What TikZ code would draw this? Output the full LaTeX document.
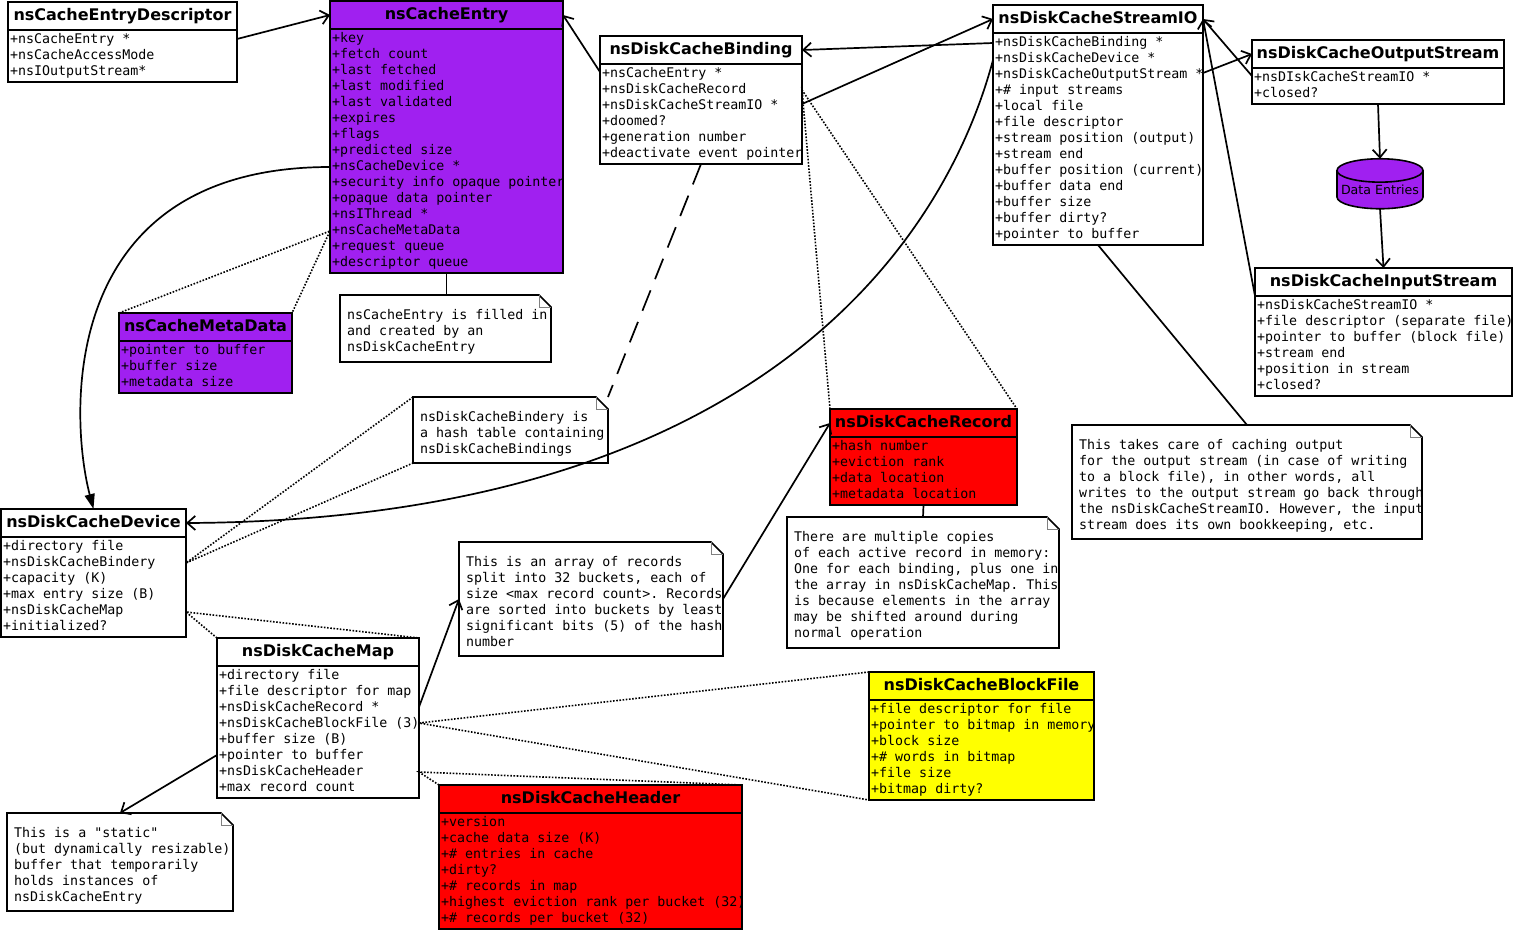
\documentclass[tikz,border=0pt]{standalone}
\usepackage{fontspec}
\setmainfont{DejaVu Sans}
\setmonofont{DejaVu Sans Mono}
\usetikzlibrary{arrows.meta,shapes.geometric}

\definecolor{violetuml}{RGB}{160,32,240}
\definecolor{rougeuml}{RGB}{255,0,0}
\definecolor{jauneuml}{RGB}{255,255,0}

% Classe UML : #1 nom, #2 coin haut gauche, #3 largeur, #4 couleur, #5 titre, #6 nb lignes, #7 attributs
\newcommand{\classeuml}[7]{%
  \node[titre, fill=#4, minimum width=#3pt, anchor=north west] (#1) at #2 {#5};
  \pgfmathsetmacro{\hauteurcorps}{16*#6+4}
  \node[cadre, fill=#4, minimum width=#3pt, minimum height=\hauteurcorps pt, anchor=north west] (#1-a) at (#1.south west) {};
  \node[attributs, anchor=north west] at ([shift={(2pt,-2pt)}]#1-a.north west) {\strut#7\strut};
}

% Note UML : #1 nom, #2 coin haut gauche, #3 largeur, #4 hauteur, #5 texte
\newcommand{\noteuml}[5]{%
  \node[fond note, minimum width=#3pt, minimum height=#4pt, anchor=north west] (#1) at #2 {};
  \draw[line width=1.6pt] (#1.north west) -- ([xshift=-12pt]#1.north east) -- ([yshift=-12pt]#1.north east) -- (#1.south east) -- (#1.south west) -- cycle;
  \draw[gray, line width=1pt] ([xshift=-12pt]#1.north east) |- ([yshift=-12pt]#1.north east);
  \node[attributs, anchor=north west] at ([shift={(7pt,-13pt)}]#1.north west) {\strut#5\strut};
}

\begin{document}
\begin{tikzpicture}[x=1pt, y=-1pt, >={Straight Barb[length=8pt,width=14pt]},
  titre/.style={draw, line width=2pt, inner sep=0pt, outer sep=0pt, minimum height=28pt, text height=12pt, text depth=3.5pt, font=\bfseries\fontsize{16}{19}\selectfont},
  cadre/.style={draw, line width=2pt, inner sep=0pt, outer sep=0pt},
  attributs/.style={inner sep=0pt, align=left, font=\ttfamily\fontsize{13.3}{16}\selectfont},
  fond note/.style={fill=white, inner sep=0pt, outer sep=0pt},
  lien/.style={line width=1.7pt},
  pointille/.style={line width=1.6pt, dash pattern=on 1.6pt off 1.6pt},
  tirets/.style={line width=1.7pt, dash pattern=on 22pt off 12pt},
  pleine/.style={-{Triangle[length=15pt,width=10pt]}},
  donnees/.style={draw, line width=1.6pt, fill=violetuml, cylinder, shape border rotate=90, aspect=0.3, minimum width=86pt, minimum height=50pt, inner sep=0pt, outer sep=0pt, font=\fontsize{12.6}{15}\selectfont}]

  \useasboundingbox (0,0) rectangle (1513,930);

  % ==========================================
  % CLASSES (EN HAUT)
  % ==========================================
  \classeuml{desc}{(8,2)}{229}{white}{nsCacheEntryDescriptor}{3}{%
    +nsCacheEntry *\\+nsCacheAccessMode\\+nsIOutputStream*}
  \classeuml{entry}{(330,1)}{233}{violetuml}{nsCacheEntry}{15}{%
    +key\\+fetch count\\+last fetched\\+last modified\\+last validated\\+expires\\+flags\\%
    +predicted size\\+nsCacheDevice *\\+security info opaque pointer\\+opaque data pointer\\%
    +nsIThread *\\+nsCacheMetaData\\+request queue\\+descriptor queue}
  \classeuml{binding}{(600,36)}{202}{white}{nsDiskCacheBinding}{6}{%
    +nsCacheEntry *\\+nsDiskCacheRecord\\+nsDiskCacheStreamIO *\\+doomed?\\%
    +generation number\\+deactivate event pointer}
  \classeuml{sio}{(993,5)}{210}{white}{nsDiskCacheStreamIO}{13}{%
    +nsDiskCacheBinding *\\+nsDiskCacheDevice *\\+nsDiskCacheOutputStream *\\+\# input streams\\%
    +local file\\+file descriptor\\+stream position (output)\\+stream end\\%
    +buffer position (current)\\+buffer data end\\+buffer size\\+buffer dirty?\\+pointer to buffer}
  \classeuml{outstream}{(1252,40)}{252}{white}{nsDiskCacheOutputStream}{2}{%
    +nsDIskCacheStreamIO *\\+closed?}
  \classeuml{instream}{(1255,268)}{257}{white}{nsDiskCacheInputStream}{6}{%
    +nsDiskCacheStreamIO *\\+file descriptor (separate file)\\+pointer to buffer (block file)\\%
    +stream end\\+position in stream\\+closed?}
  \classeuml{meta}{(119,313)}{173}{violetuml}{nsCacheMetaData}{3}{%
    +pointer to buffer\\+buffer size\\+metadata size}

  % Fichier de données
  \node[donnees] (data) at (1380,190) {Data Entries};

  % ==========================================
  % CLASSES (EN BAS)
  % ==========================================
  \classeuml{record}{(830,409)}{187}{rougeuml}{nsDiskCacheRecord}{4}{%
    +hash number\\+eviction rank\\+data location\\+metadata location}
  \classeuml{device}{(1,509)}{185}{white}{nsDiskCacheDevice}{6}{%
    +directory file\\+nsDiskCacheBindery\\+capacity (K)\\+max entry size (B)\\%
    +nsDiskCacheMap\\+initialized?}
  \classeuml{map}{(217,638)}{202}{white}{nsDiskCacheMap}{8}{%
    +directory file\\+file descriptor for map\\+nsDiskCacheRecord *\\+nsDiskCacheBlockFile (3)\\%
    +buffer size (B)\\+pointer to buffer\\+nsDiskCacheHeader\\+max record count}
  \classeuml{blockfile}{(869,672)}{225}{jauneuml}{nsDiskCacheBlockFile}{6}{%
    +file descriptor for file\\+pointer to bitmap in memory\\+block size\\%
    +\# words in bitmap\\+file size\\+bitmap dirty?}
  \classeuml{header}{(439,785)}{303}{rougeuml}{nsDiskCacheHeader}{7}{%
    +version\\+cache data size (K)\\+\# entries in cache\\+dirty?\\+\# records in map\\%
    +highest eviction rank per bucket (32)\\+\# records per bucket (32)}

  % ==========================================
  % NOTES
  % ==========================================
  \noteuml{nEntry}{(340,295)}{211}{67}{nsCacheEntry is filled in\\and created by an\\nsDiskCacheEntry}
  \noteuml{nBindery}{(413,397)}{195}{66}{nsDiskCacheBindery is\\a hash table containing\\nsDiskCacheBindings}
  \noteuml{nArray}{(459,542)}{264}{114}{This is an array of records\\split into 32 buckets, each of\\%
    size <max record count>. Records\\are sorted into buckets by least\\significant bits (5) of the hash\\number}
  \noteuml{nCopies}{(787,517)}{272}{131}{There are multiple copies\\of each active record in memory:\\%
    One for each binding, plus one in\\the array in nsDiskCacheMap. This\\is because elements in the array\\%
    may be shifted around during\\normal operation}
  \noteuml{nOutput}{(1072,425)}{350}{114}{This takes care of caching output\\for the output stream (in case of writing\\%
    to a block file), in other words, all\\writes to the output stream go back through\\%
    the nsDiskCacheStreamIO. However, the input\\stream does its own bookkeeping, etc.}
  \noteuml{nStatic}{(7,813)}{226}{98}{This is a "static"\\(but dynamically resizable)\\buffer that temporarily\\%
    holds instances of\\nsDiskCacheEntry}

  % ==========================================
  % LIENS
  % ==========================================
  % Associations fléchées
  \draw[lien, ->] ([yshift=-9pt]desc-a.north west -| desc-a.east) -- (entry.west);
  \draw[lien, ->] ([yshift=-8pt]binding-a.north west) -- (entry.east);
  \draw[lien, ->] ([yshift=-10pt]sio-a.north west) -- (binding.east);
  \draw[lien, ->] ([yshift=-40pt]binding-a.north east) -- (sio.west);
  \draw[lien, ->] ([yshift=-40pt]sio-a.north east) -- (outstream.west);
  \draw[lien, ->] ([yshift=-8pt]outstream-a.north west) -- (sio.east);
  \draw[lien, ->] (instream-a.north west) -- (sio.east);
  \draw[lien, ->] (outstream-a.south) -- (data.north);
  \draw[lien, ->] (data.south) -- (instream.north);
  \draw[lien, ->] ([yshift=-41pt]map-a.north east) -- (nArray.west);
  \draw[lien, ->] (nArray.east) -- (record.west);
  \draw[lien, ->] ([yshift=-89pt]map-a.north west) -- (nStatic.north);

  % Courbes vers nsDiskCacheDevice
  \draw[lien, pleine] ([yshift=-138pt]entry-a.north west) .. controls (55,167) and (70,420) .. (device.north);
  \draw[lien, ->] ([yshift=-27pt]sio-a.north west) .. controls (945,240) and (760,520) .. (device.east);

  % Rattachement des notes
  \draw[lien] (entry-a.south) -- (entry-a.south |- nEntry.north);
  \draw[lien] (record-a.south) -- (nCopies.north);
  \draw[lien] (sio-a.south) -- (nOutput.north);
  \draw[tirets] (binding-a.south) -- (nBindery.north east);

  % Compositions (pointillés)
  \draw[pointille] (meta.north west) -- ([yshift=-202pt]entry-a.north west) -- (meta.north east);
  \draw[pointille] (record.north west) -- ([yshift=-26pt]binding-a.north east) -- (record.north east);
  \draw[pointille] (nBindery.north west) -- ([yshift=-26pt]device-a.north east) -- (nBindery.south west);
  \draw[pointille] (map.north west) -- ([yshift=-75pt]device-a.north east) -- (map.north east);
  \draw[pointille] (blockfile.north west) -- ([yshift=-57pt]map-a.north east) -- (blockfile-a.south west);
  \draw[pointille] (header.north west) -- ([yshift=-106pt]map-a.north east) -- (header.north east);

\end{tikzpicture}
\end{document}
